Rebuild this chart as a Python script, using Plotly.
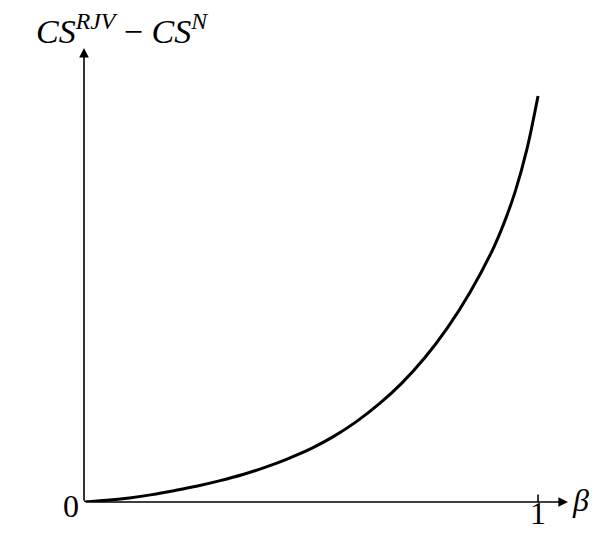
import plotly.graph_objects as go

# values (vertical scale: curve end = 1)
beta = [0, 0.05, 0.1, 0.15, 0.2, 0.25, 0.3, 0.35, 0.4, 0.45, 0.5, 0.55, 0.6, 0.65,
        0.7, 0.75, 0.8, 0.85, 0.9, 0.925, 0.95, 0.975, 1.0]
diff = [0, 0.004, 0.01, 0.018, 0.028, 0.039, 0.052, 0.067, 0.085, 0.106, 0.13, 0.16,
        0.196, 0.239, 0.29, 0.351, 0.424, 0.511, 0.615, 0.68, 0.758, 0.858, 0.99]

x_tick_vals = [1]
x_tick_text = ["1"]
x_label = "<i>β</i>"
y_label = "<i>CS</i><sup><i>RJV</i></sup> − <i>CS</i><sup><i>N</i></sup>"

x_max = 1.066
y_max = 1.107
font = "Liberation Serif"

fig = go.Figure()
fig.add_trace(go.Scatter(
    x=beta, y=diff, mode="lines",
    line=dict(color="black", width=3, shape="spline", smoothing=1),
    hoverinfo="skip",
))

# axes with arrow heads
fig.add_annotation(x=x_max, y=0, ax=0, ay=0, xref="x", yref="y", axref="x", ayref="y",
                   showarrow=True, arrowhead=2, arrowsize=1.2, arrowwidth=1.6,
                   arrowcolor="black", text="")
fig.add_annotation(x=0, y=y_max, ax=0, ay=0, xref="x", yref="y", axref="x", ayref="y",
                   showarrow=True, arrowhead=2, arrowsize=1.2, arrowwidth=1.6,
                   arrowcolor="black", text="")

# tick mark at beta = 1
for v, t in zip(x_tick_vals, x_tick_text):
    fig.add_shape(type="line", x0=v, x1=v, y0=-0.018, y1=0.018, xref="x", yref="y",
                  line=dict(color="black", width=1.6))
    fig.add_annotation(x=v, y=0, xref="x", yref="y", text=t, showarrow=False,
                       yanchor="top", yshift=9, font=dict(family=font, size=32, color="black"))

fig.add_annotation(x=0, y=0, xref="x", yref="y", text="0", showarrow=False,
                   xanchor="right", xshift=-3, yshift=-4, font=dict(family=font, size=32, color="black"))
fig.add_annotation(x=x_max, y=0, xref="x", yref="y", text=x_label, showarrow=False,
                   xanchor="left", xshift=2, yshift=2, font=dict(family=font, size=32, color="black"))
fig.add_annotation(x=0, y=y_max, xref="x", yref="y", text=y_label, showarrow=False,
                   yanchor="bottom", yshift=-4, xshift=38, font=dict(family=font, size=34, color="black"))

fig.update_xaxes(range=[0, x_max], visible=False)
fig.update_yaxes(range=[0, y_max], visible=False)
fig.update_layout(
    width=603, height=533,
    margin=dict(l=76, r=43, t=40, b=39),
    plot_bgcolor="white", paper_bgcolor="white",
    showlegend=False,
)

fig.write_html("out.html")
